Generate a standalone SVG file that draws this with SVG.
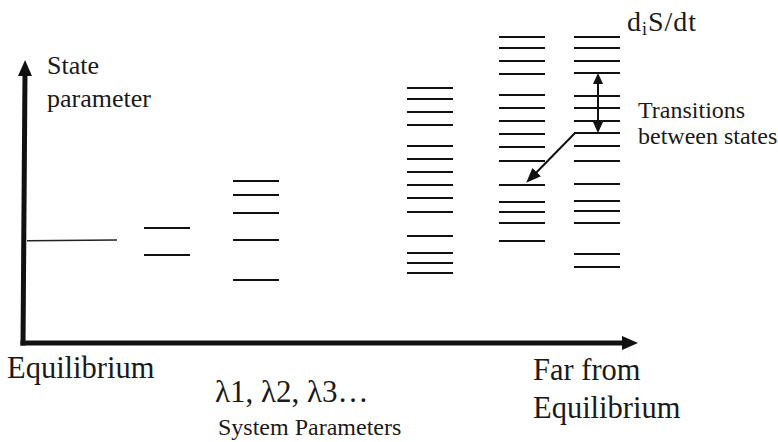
<svg xmlns="http://www.w3.org/2000/svg" width="778" height="442" viewBox="0 0 778 442">
<style>
.axis{stroke:#111;stroke-width:5;fill:none}
.lvl{stroke:#111;stroke-width:2.2}
.thin{stroke:#222;stroke-width:1.5}
.conn{stroke:#111;stroke-width:2;fill:none}
text{font-family:"Liberation Serif","Times New Roman",serif;fill:#1a1a1a}
.t24{font-size:24px}
.t26{font-size:26px}
.t30{font-size:30.5px}
.t31{font-size:31px}
.t28{font-size:28px;letter-spacing:1px}
.sub{font-size:18px}
</style>
<defs>
<marker id="axHead" markerUnits="userSpaceOnUse" markerWidth="18" markerHeight="16" refX="4" refY="7" orient="auto"><path d="M0,0 L16,7 L0,14 z" fill="#111"/></marker>
<marker id="smHead" markerUnits="userSpaceOnUse" markerWidth="12" markerHeight="12" refX="9" refY="5" orient="auto-start-reverse"><path d="M0,0 L11,5 L0,10 z" fill="#111"/></marker>
<marker id="dgHead" markerUnits="userSpaceOnUse" markerWidth="16" markerHeight="14" refX="11" refY="6" orient="auto"><path d="M0,0 L15,6 L0,12 z" fill="#111"/></marker>
</defs>
<rect width="778" height="442" fill="#fff"/>

<g id="axes">
<line class="axis" x1="23" y1="345.5" x2="25" y2="72" marker-end="url(#axHead)"/>
<line class="axis" x1="20.5" y1="343" x2="626" y2="343" marker-end="url(#axHead)"/>
<line class="thin" x1="27" y1="240.7" x2="117" y2="240"/>
</g>

<g id="stack1">
<line class="lvl" x1="144" y1="228" x2="190" y2="228"/>
<line class="lvl" x1="144" y1="255" x2="190" y2="255"/>
</g>

<g id="stack2">
<line class="lvl" x1="233" y1="181" x2="279" y2="181"/>
<line class="lvl" x1="233" y1="195" x2="279" y2="195"/>
<line class="lvl" x1="233" y1="213" x2="279" y2="213"/>
<line class="lvl" x1="233" y1="240" x2="279" y2="240"/>
<line class="lvl" x1="233" y1="280" x2="279" y2="280"/>
</g>

<g id="stack3">
<line class="lvl" x1="407" y1="88" x2="453" y2="88"/>
<line class="lvl" x1="407" y1="99" x2="453" y2="99"/>
<line class="lvl" x1="407" y1="112" x2="453" y2="112"/>
<line class="lvl" x1="407" y1="125" x2="453" y2="125"/>
<line class="lvl" x1="407" y1="146" x2="453" y2="146"/>
<line class="lvl" x1="407" y1="159" x2="453" y2="159"/>
<line class="lvl" x1="407" y1="172" x2="453" y2="172"/>
<line class="lvl" x1="407" y1="185" x2="453" y2="185"/>
<line class="lvl" x1="407" y1="198" x2="453" y2="198"/>
<line class="lvl" x1="407" y1="212" x2="453" y2="212"/>
<line class="lvl" x1="407" y1="236" x2="453" y2="236"/>
<line class="lvl" x1="407" y1="253" x2="453" y2="253"/>
<line class="lvl" x1="407" y1="263" x2="453" y2="263"/>
<line class="lvl" x1="407" y1="273" x2="453" y2="273"/>
</g>

<g id="stack4">
<line class="lvl" x1="499" y1="37" x2="545" y2="37"/>
<line class="lvl" x1="499" y1="48" x2="545" y2="48"/>
<line class="lvl" x1="499" y1="61" x2="545" y2="61"/>
<line class="lvl" x1="499" y1="74" x2="545" y2="74"/>
<line class="lvl" x1="499" y1="95" x2="545" y2="95"/>
<line class="lvl" x1="499" y1="108" x2="545" y2="108"/>
<line class="lvl" x1="499" y1="121" x2="545" y2="121"/>
<line class="lvl" x1="499" y1="134" x2="545" y2="134"/>
<line class="lvl" x1="499" y1="147" x2="545" y2="147"/>
<line class="lvl" x1="499" y1="161" x2="545" y2="161"/>
<line class="lvl" x1="499" y1="185" x2="545" y2="185"/>
<line class="lvl" x1="499" y1="202" x2="545" y2="202"/>
<line class="lvl" x1="499" y1="212" x2="545" y2="212"/>
<line class="lvl" x1="499" y1="223" x2="545" y2="223"/>
<line class="lvl" x1="499" y1="241" x2="545" y2="241"/>
</g>

<g id="stack5">
<line class="lvl" x1="574" y1="37" x2="620" y2="37"/>
<line class="lvl" x1="574" y1="48" x2="620" y2="48"/>
<line class="lvl" x1="574" y1="61" x2="620" y2="61"/>
<line class="lvl" x1="574" y1="73" x2="620" y2="73"/>
<line class="lvl" x1="574" y1="96" x2="620" y2="96"/>
<line class="lvl" x1="574" y1="108" x2="620" y2="108"/>
<line class="lvl" x1="574" y1="121" x2="620" y2="121"/>
<line class="lvl" x1="574" y1="133" x2="620" y2="133"/>
<line class="lvl" x1="574" y1="146" x2="620" y2="146"/>
<line class="lvl" x1="574" y1="161" x2="620" y2="161"/>
<line class="lvl" x1="574" y1="184" x2="620" y2="184"/>
<line class="lvl" x1="574" y1="201" x2="620" y2="201"/>
<line class="lvl" x1="574" y1="211" x2="620" y2="211"/>
<line class="lvl" x1="574" y1="223" x2="620" y2="223"/>
<line class="lvl" x1="574" y1="254" x2="620" y2="254"/>
<line class="lvl" x1="574" y1="267" x2="620" y2="267"/>
</g>

<g id="connectors">
<line class="conn" x1="598" y1="75" x2="598" y2="131" marker-start="url(#smHead)" marker-end="url(#smHead)"/>
<line class="conn" x1="575" y1="133" x2="529" y2="180" marker-end="url(#dgHead)"/>
</g>

<g id="labels">
<text class="t26" x="47" y="74">State</text>
<text class="t26" x="47" y="107">parameter</text>
<text class="t30" x="7" y="378">Equilibrium</text>
<text class="t31" x="215" y="402">λ1, λ2, λ3…</text>
<text class="t24" x="218" y="435">System Parameters</text>
<text class="t30" x="533" y="380">Far from</text>
<text class="t30" x="533" y="418">Equilibrium</text>
<text class="t28" x="627" y="31">d<tspan class="sub" dy="4">i</tspan><tspan dy="-4">S/dt</tspan></text>
<text class="t24" x="638" y="118">Transitions</text>
<text class="t24" x="638" y="144">between states</text>
</g>
</svg>
